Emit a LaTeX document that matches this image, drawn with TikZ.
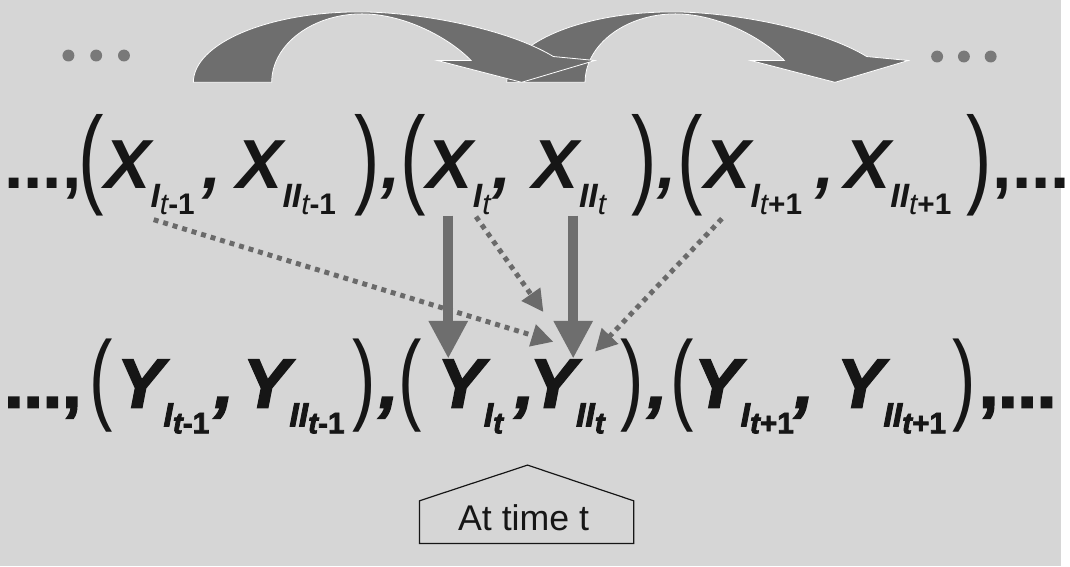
\documentclass[tikz,border=0pt]{standalone}
\usepackage{fontspec}
\usepackage{graphicx}
\setmainfont{Liberation Sans}
\newfontfamily\heavyfont[FakeBold=2.5]{Liberation Sans}
\usetikzlibrary{arrows.meta, calc}
\definecolor{bggray}{HTML}{D6D6D6}
\definecolor{arcgray}{HTML}{6E6E6E}
\definecolor{dotgray}{HTML}{6A6A6A}
\definecolor{inkblack}{HTML}{161616}

% subscripted variable: letter, index, time
\newcommand{\term}[3]{#1\raisebox{-19pt}{\fontsize{34}{34}\selectfont#2\raisebox{-7pt}{\fontsize{30}{30}\selectfont#3}}}
\newcommand{\nparen}[1]{\scalebox{0.7}[1]{#1}}

\begin{document}
\begin{tikzpicture}[x=1pt, y=-1pt,
  xterm/.style={inner sep=0pt, anchor=base west, text=inkblack, font=\fontsize{70}{70}\selectfont\bfseries\itshape},
  yterm/.style={inner sep=0pt, anchor=base west, text=inkblack, font=\heavyfont\fontsize{70}{70}\selectfont\bfseries\itshape},
  xparen/.style={inner sep=0pt, anchor=base west, text=inkblack, font=\fontsize{110}{110}\selectfont\mdseries\upshape},
  yparen/.style={xparen, font=\fontsize{101}{101}\selectfont\mdseries\upshape},
  solidarrow/.style={draw=arcgray, line width=10pt, -{Triangle[length=38pt, width=37pt]}},
  dotarrow/.style={draw=dotgray, line width=5pt, dash pattern=on 5pt off 5pt, -{Triangle[length=22pt, width=22pt]}}]

% Background
\fill[bggray] (0,0) rectangle (1070,571);

% Curved arrows (second one first, the first lies over its foot)
\begin{scope}[xshift=316pt]
\fill[arcgray, draw=white, line width=0.8pt] (195,83) .. controls (195,44) and (270,12) .. (362,12)
  .. controls (420,12) and (510,28) .. (558,57) -- (600,61) -- (526,83) -- (441,61) -- (475,61)
  .. controls (455,40) and (410,14) .. (365,14) .. controls (315,14) and (274,45) .. (274,83) -- cycle;
\end{scope}
\fill[arcgray, draw=white, line width=0.8pt] (195,83) .. controls (195,44) and (270,12) .. (362,12)
  .. controls (420,12) and (510,28) .. (558,57) -- (600,61) -- (526,83) -- (441,61) -- (475,61)
  .. controls (455,40) and (410,14) .. (365,14) .. controls (315,14) and (274,45) .. (274,83) -- cycle;

% Dots beside the arrows
\fill[dotgray!90] (69,56) circle (6pt) (97,56) circle (6pt) (125,56) circle (6pt);
\fill[dotgray!90] (945,57) circle (6pt) (972,57) circle (6pt) (999,57) circle (6pt);

% Row of X
\node[xterm] (xdl) at (4,190) {\upshape...,};
\node[xparen] (xpa1) at (79,195) {\nparen{(}};
\node[xterm] (x1) at (105,190) {\term{X}{I}{{\mdseries t}\upshape-1}};
\node[xterm] (xc1) at (204,190) {,};
\node[xterm] (x2) at (238,190) {\term{X}{II}{{\mdseries t}\upshape-1}};
\node[xparen] (xpb1) at (357,195) {\nparen{)}};
\node[xterm] (xc2) at (384,190) {,};
\node[xparen] (xpa2) at (404,195) {\nparen{(}};
\node[xterm] (x3) at (430,190) {\term{X}{I}{\mdseries t}};
\node[xterm] (xc3) at (496,190) {,};
\node[xterm] (x4) at (537,190) {\term{X}{II}{\mdseries t}};
\node[xparen] (xpb2) at (637,195) {\nparen{)}};
\node[xterm] (xc4) at (663,190) {,};
\node[xparen] (xpa3) at (683,195) {\nparen{(}};
\node[xterm] (x5) at (710,190) {\term{X}{I}{{\mdseries t}\upshape+1}};
\node[xterm] (xc5) at (822,190) {,};
\node[xterm] (x6) at (851,190) {\term{X}{II}{{\mdseries t}\upshape+1}};
\node[xparen] (xpb3) at (974,195) {\nparen{)}};
\node[xterm] (xdr) at (1001,190) {\upshape,...};

% Row of Y
\node[yterm] (ydl) at (4,411) {\upshape...,};
\node[yparen] (ypa1) at (90,415) {\nparen{(}};
\node[yterm] (y1) at (118,411) {\term{Y}{I}{t\upshape-1}};
\node[yterm] (yc1) at (216,411) {,};
\node[yterm] (y2) at (245,411) {\term{Y}{II}{t\upshape-1}};
\node[yparen] (ypb1) at (355,415) {\nparen{)}};
\node[yterm] (yc2) at (382,411) {,};
\node[yparen] (ypa2) at (402,415) {\nparen{(}};
\node[yterm] (y3) at (441,411) {\term{Y}{I}{t}};
\node[yterm] (yc3) at (519,411) {,};
\node[yterm] (y4) at (534,411) {\term{Y}{II}{t}};
\node[yparen] (ypb2) at (626,415) {\nparen{)}};
\node[yterm] (yc4) at (653,411) {,};
\node[yparen] (ypa3) at (676,415) {\nparen{(}};
\node[yterm] (y5) at (700,411) {\term{Y}{I}{t\upshape+1}};
\node[yterm] (yc5) at (801,411) {,};
\node[yterm] (y6) at (844,411) {\term{Y}{II}{t\upshape+1}};
\node[yparen] (ypb3) at (960,415) {\nparen{)}};
\node[yterm] (ydr) at (987,411) {\upshape,...};

% Influences
\draw[dotarrow] ([shift={(50,5)}]x1.south west) -- ([shift={(24,-18)}]y4.north west);
\draw[dotarrow] ([shift={(50,2)}]x3.south west) -- ([shift={(14,-48)}]y4.north west);
\draw[dotarrow] ([shift={(18,4)}]x5.south west) -- ([shift={(66,-8)}]y4.north west);
\draw[solidarrow] ([shift={(22,1)}]x3.south west) -- ([shift={(11,-1)}]y3.north west);
\draw[solidarrow] ([shift={(41,1)}]x4.south west) -- ([shift={(44,-1)}]y4.north west);

% Callout
\draw[inkblack, line width=1.2pt] (423,548) -- (423,505) -- (532,469) -- (639,505) -- (639,548) -- cycle;
\node[font=\fontsize{36}{36}\selectfont, text=inkblack] (timebox) at (528,522) {At time t};

\end{tikzpicture}
\end{document}
